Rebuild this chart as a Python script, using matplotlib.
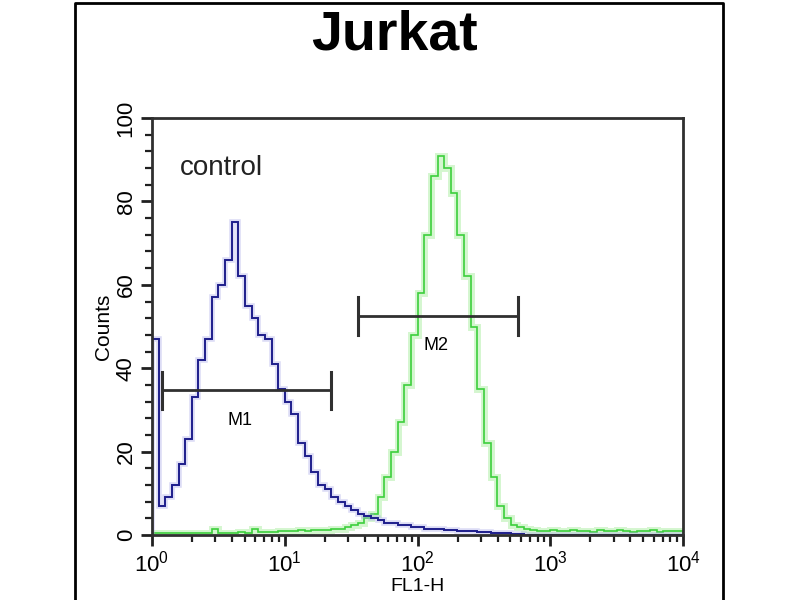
import matplotlib.pyplot as plt
import numpy as np
from matplotlib.lines import Line2D
from matplotlib.ticker import LogLocator, LogFormatterSciNotation, MultipleLocator

plt.rcParams["font.family"] = ["Liberation Sans", "DejaVu Sans"]
plt.rcParams["mathtext.fontset"] = "custom"
plt.rcParams["mathtext.rm"] = "Liberation Sans"
plt.rcParams["mathtext.it"] = "Liberation Sans"
plt.rcParams["mathtext.bf"] = "Liberation Sans:bold"

TITLE = "Jurkat"

# FL1-H channels: 20 bins per decade over 10^0 .. 10^4
bin_edges = np.logspace(0, 4, 81)

control_counts = [
    47, 7, 9, 12, 17, 23, 33, 42, 47, 57,
    60, 66, 75, 62, 55, 52, 48, 47, 41, 35,
    32, 29, 22, 19, 15, 12, 11, 9, 8, 7,
    6, 5, 4.5, 4, 3.5, 3, 3, 2.5, 2.5, 2,
    2, 1.5, 1.5, 1.5, 1.2, 1.2, 1, 1, 1, 0.8,
    0.8, 0.6, 0.5, 0.4, 0.3, 0.2, 0, 0, 0, 0,
    0, 0, 0, 0, 0, 0, 0, 0, 0, 0,
    0, 0, 0, 0, 0, 0, 0, 0, 0, 0,
]

sample_counts = [
    0.4, 0.5, 0.4, 0.6, 0.5, 0.4, 0.5, 0.6, 0.5, 1.5,
    0.5, 0.6, 0.5, 0.7, 0.6, 1.4, 0.7, 0.8, 0.7, 0.9,
    1.0, 1.0, 1.1, 1.0, 1.2, 1.1, 1.2, 1.5, 1.5, 2,
    2.5, 3, 4, 5, 9, 14, 20, 27, 36, 48,
    58, 72, 86, 91, 88, 82, 72, 62, 50, 35,
    22, 14, 7, 4, 2.5, 2, 1.5, 1.2, 1.0, 1.0,
    1.2, 0.9, 1.0, 1.1, 0.9, 1.0, 0.8, 1.2, 0.9, 1.0,
    1.1, 0.9, 0.8, 1.0, 0.9, 1.1, 0.8, 1.0, 0.9, 1.0,
]

# marker gates: (start, end, height, label, label_x, label_y)
markers = [
    (1.19, 22.3, 34.7, "M1", 4.6, 27.5),
    (35.6, 571, 52.5, "M2", 138, 45.5),
]


def main() -> None:
    fig = plt.figure(figsize=(8, 6), dpi=100)
    ax = fig.add_axes([0.19, 0.1083, 0.664, 0.695])

    ax.stairs(sample_counts, bin_edges, color="#b8f0b0", lw=5, alpha=0.6)
    ax.stairs(sample_counts, bin_edges, color="#3ccf3c", lw=1.2)
    ax.stairs(control_counts, bin_edges, color="#a8a8e8", lw=4, alpha=0.4)
    ax.stairs(control_counts, bin_edges, color="#1e1e8c", lw=1.4)

    for start, end, height, label, lx, ly in markers:
        ax.plot([start, end], [height, height], color="#303030", lw=2)
        for xe in (start, end):
            ax.plot([xe, xe], [height - 4.5, height + 4.5], color="#303030", lw=2.2)
        ax.text(lx, ly, label, ha="center", va="center", fontsize=13)

    ax.text(1.62, 88, "control", fontsize=20, va="center", ha="left", color="#222222")

    ax.set_xscale("log")
    ax.set_xlim(1, 1e4)
    ax.set_ylim(0, 100)
    ax.xaxis.set_major_locator(LogLocator(base=10, numticks=10))
    ax.xaxis.set_minor_locator(LogLocator(base=10, subs=np.arange(2, 10), numticks=10))
    ax.xaxis.set_major_formatter(LogFormatterSciNotation())
    ax.yaxis.set_major_locator(MultipleLocator(20))
    ax.yaxis.set_minor_locator(MultipleLocator(4))

    ax.tick_params(axis="both", which="major", direction="out", length=8, width=2,
                   color="#202020", labelsize=16, pad=3)
    ax.tick_params(axis="both", which="minor", direction="out", length=5, width=1.6,
                   color="#202020")
    ax.tick_params(axis="y", labelrotation=90)
    for lab in ax.get_yticklabels():
        lab.set_va("center")

    for spine in ax.spines.values():
        spine.set_linewidth(2)
        spine.set_color("#303030")

    ax.set_ylabel("Counts", fontsize=15, labelpad=2)
    ax.set_xlabel("FL1-H", fontsize=14, labelpad=1)

    fig.text(0.493, 0.94, TITLE, ha="center", va="center", fontsize=40,
             fontweight="bold")

    # outer panel frame
    frame_x = [75 / 800, 75 / 800, 723 / 800, 723 / 800]
    frame_y = [-0.01, 1 - 3 / 600, 1 - 3 / 600, -0.01]
    fig.add_artist(Line2D(frame_x, frame_y, transform=fig.transFigure,
                          color="black", lw=2))

    fig.savefig("out.png", dpi=100)
    plt.close(fig)


if __name__ == "__main__":
    main()
